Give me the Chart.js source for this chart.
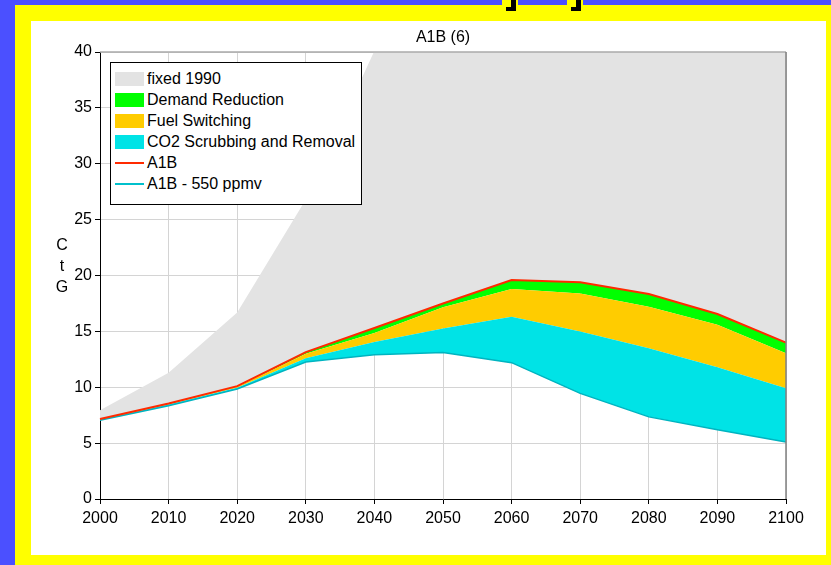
<!DOCTYPE html>
<html>
<head>
<meta charset="utf-8">
<script src="https://cdn.jsdelivr.net/npm/chart.js@4.4.1/dist/chart.umd.min.js"></script>
<style>
body { margin: 0; width: 831px; height: 565px; background: #4b50ff; position: relative; overflow: hidden; font-family: "Liberation Sans", Arial, sans-serif; }
#frame { position: absolute; left: 15px; top: 5px; width: 816px; height: 560px; background: #ffff00; }
.mark { position: absolute; background: #ffff00; }
.blk { position: absolute; background: #000; }
#panel { position: absolute; left: 31px; top: 21px; width: 795px; height: 534px; background: #fff; }
#title { position: absolute; left: 69px; width: 686px; top: 6px; text-align: center; font-size: 16px; line-height: 19px; color: #000; }
#ylabel { position: absolute; left: 22px; top: 213px; width: 18px; text-align: center; font-size: 16px; line-height: 21px; color: #000; }
#legend { position: absolute; left: 79px; top: 41px; width: 250px; height: 135px; border: 1px solid #000; background: #fff; padding-top: 6px; box-sizing: content-box; }
.row { display: flex; align-items: center; height: 20.85px; font-size: 16px; color: #000; white-space: nowrap; }
.sw { width: 29px; height: 14px; margin-left: 4px; margin-right: 3px; }
.ln { width: 29px; height: 2px; margin-left: 4px; margin-right: 3px; }
</style>
</head>
<body>
<div id="frame"></div>
<div class="mark" style="left:502px;top:0;width:16px;height:6px"></div>
<div class="blk" style="left:511px;top:0;width:5px;height:11px"></div>
<div class="blk" style="left:506px;top:7px;width:10px;height:4px"></div>
<div class="mark" style="left:567px;top:0;width:16px;height:6px"></div>
<div class="blk" style="left:576px;top:0;width:5px;height:11px"></div>
<div class="blk" style="left:571px;top:7px;width:10px;height:4px"></div>
<div id="panel">
  <canvas id="chart" width="795" height="534"></canvas>
  <div id="title">A1B (6)</div>
  <div id="ylabel">C<br>t<br>G</div>
  <div id="legend">
    <div class="row"><span class="sw" style="background:#e3e3e3"></span>fixed 1990</div>
    <div class="row"><span class="sw" style="background:#00ff00"></span>Demand Reduction</div>
    <div class="row"><span class="sw" style="background:#ffcc00"></span>Fuel Switching</div>
    <div class="row"><span class="sw" style="background:#00e3e6"></span>CO2 Scrubbing and Removal</div>
    <div class="row"><span class="ln" style="background:#ff2a00"></span>A1B</div>
    <div class="row"><span class="ln" style="background:#00c0cc"></span>A1B - 550 ppmv</div>
  </div>
</div>
<script>
// Years on the x axis
const years = ["2000", "2010", "2020", "2030", "2040", "2050", "2060", "2070", "2080", "2090", "2100"];

// A1B emissions (red line, also top of the green band)
const a1b = [7.15, 8.55, 10.1, 13.15, 15.3, 17.5, 19.6, 19.4, 18.35, 16.55, 14.0];
// A1B - 550 ppmv (teal line, bottom of the cyan band)
const a1b550 = [7.05, 8.35, 9.85, 12.25, 12.9, 13.1, 12.2, 9.45, 7.35, 6.2, 5.1];
// top of the CO2 scrubbing band
const scrubbingTop = [7.1, 8.45, 9.95, 12.6, 14.05, 15.25, 16.3, 15.0, 13.5, 11.8, 9.9];
// top of the fuel switching band
const switchingTop = [7.12, 8.5, 10.05, 13.0, 14.85, 17.15, 18.8, 18.4, 17.2, 15.6, 13.05];
// fixed 1990 technology (goes off the top after 2040)
const fixed1990 = [7.95, 11.3, 16.7, 26.8, 40.1, 46, 51, 55, 58, 60, 61];

const yTicks = [0, 5, 10, 15, 20, 25, 30, 35, 40];

Chart.defaults.font.family = '"Liberation Sans", Arial, sans-serif';
Chart.defaults.color = "#000";

// top and right frame of the plot
const frameLines = {
    id: "frameLines",
    afterDatasetsDraw(chart) {
        const { ctx, chartArea } = chart;
        ctx.save();
        ctx.lineWidth = 1.5;
        ctx.strokeStyle = "#aaaaaa";
        ctx.beginPath();
        ctx.moveTo(chartArea.left, chartArea.top);
        ctx.lineTo(chartArea.right, chartArea.top);
        ctx.stroke();
        ctx.strokeStyle = "#808080";
        ctx.beginPath();
        ctx.moveTo(chartArea.right, chartArea.top);
        ctx.lineTo(chartArea.right, chartArea.bottom);
        ctx.stroke();
        ctx.restore();
    },
};

const areaStyle = (color) => ({
    backgroundColor: color,
    borderWidth: 0,
    pointRadius: 0,
    tension: 0,
    order: 1,
});

new Chart(document.getElementById("chart").getContext("2d"), {
    type: "line",
    data: {
        labels: years,
        datasets: [
            { label: "A1B", data: a1b, borderColor: "#ff2a00", borderWidth: 2, pointRadius: 0, fill: false, order: 0 },
            { label: "A1B - 550 ppmv", data: a1b550, borderColor: "#00b4c0", borderWidth: 1.5, pointRadius: 0, fill: false, order: 0 },
            { label: "CO2 Scrubbing and Removal", data: scrubbingTop, fill: 1, ...areaStyle("#00e3e6") },
            { label: "Fuel Switching", data: switchingTop, fill: 2, ...areaStyle("#ffcc00") },
            { label: "Demand Reduction", data: a1b, fill: 3, ...areaStyle("#00ff00") },
            { label: "fixed 1990", data: fixed1990, fill: 4, ...areaStyle("#e3e3e3") },
        ],
    },
    options: {
        responsive: false,
        animation: false,
        devicePixelRatio: 1,
        layout: { padding: { left: 0, right: 40, top: 31, bottom: 0 } },
        plugins: {
            legend: { display: false },
            tooltip: { enabled: false },
            filler: { drawTime: "beforeDatasetsDraw" },
            title: { display: false },
        },
        scales: {
            x: {
                type: "category",
                grid: { color: "#d4d4d4", tickColor: "#000", tickLength: 5 },
                border: { color: "#000", width: 1 },
                ticks: { font: { size: 16 }, autoSkip: false, maxRotation: 0, padding: 5 },
                afterFit: (scale) => { scale.height = 56; },
            },
            y: {
                min: 0,
                max: 40,
                afterBuildTicks: (scale) => { scale.ticks = yTicks.map((v) => ({ value: v })); },
                grid: { color: "#d4d4d4", tickColor: "#000", tickLength: 5 },
                border: { color: "#000", width: 1 },
                ticks: { font: { size: 16 }, padding: 3 },
                afterFit: (scale) => { scale.width = 69; },
            },
        },
    },
    plugins: [frameLines],
});
</script>
</body>
</html>
